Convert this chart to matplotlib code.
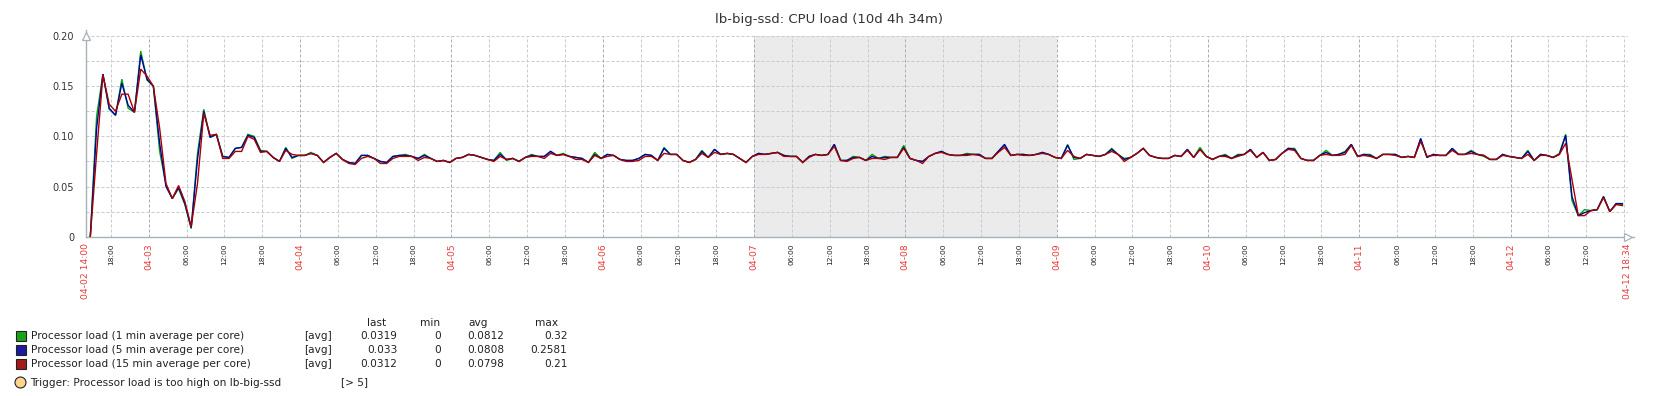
import numpy as np
import matplotlib
matplotlib.use("Agg")
import matplotlib.pyplot as plt
from matplotlib.patches import Rectangle, Ellipse
from datetime import datetime, timedelta

# ---------------- data ----------------
title = "lb-big-ssd: CPU load (10d 4h 34m)"
start_time = datetime(2024, 4, 2, 14, 0)
end_time = datetime(2024, 4, 12, 18, 34)
sample_offset_h = 0.73          # first hourly trend sample after start
weekend_start = datetime(2024, 4, 7, 0, 0)
weekend_end = datetime(2024, 4, 9, 0, 0)

load_1min = [
    0.000, 0.120, 0.162, 0.127, 0.121, 0.157, 0.128, 0.124, 0.185, 0.156,
    0.150, 0.085, 0.052, 0.038, 0.048, 0.032, 0.008, 0.083, 0.127, 0.099,
    0.102, 0.080, 0.079, 0.088, 0.089, 0.102, 0.100, 0.086, 0.085, 0.079,
    0.075, 0.089, 0.078, 0.081, 0.081, 0.084, 0.081, 0.074, 0.079, 0.083,
    0.077, 0.074, 0.073, 0.081, 0.081, 0.078, 0.075, 0.074, 0.080, 0.081,
    0.082, 0.080, 0.078, 0.082, 0.078, 0.075, 0.076, 0.074, 0.078, 0.079,
    0.082, 0.081, 0.079, 0.077, 0.076, 0.084, 0.076, 0.078, 0.075, 0.079,
    0.082, 0.080, 0.080, 0.085, 0.081, 0.083, 0.080, 0.079, 0.078, 0.074,
    0.084, 0.078, 0.082, 0.081, 0.077, 0.076, 0.076, 0.078, 0.082, 0.081,
    0.076, 0.089, 0.082, 0.082, 0.076, 0.074, 0.077, 0.086, 0.079, 0.087,
    0.082, 0.083, 0.082, 0.078, 0.074, 0.080, 0.083, 0.082, 0.083, 0.084,
    0.081, 0.080, 0.080, 0.074, 0.080, 0.082, 0.081, 0.082, 0.092, 0.076,
    0.076, 0.080, 0.079, 0.076, 0.082, 0.078, 0.080, 0.079, 0.079, 0.091,
    0.078, 0.076, 0.075, 0.080, 0.083, 0.085, 0.082, 0.081, 0.081, 0.083,
    0.082, 0.082, 0.078, 0.078, 0.085, 0.091, 0.081, 0.082, 0.082, 0.081,
    0.082, 0.084, 0.082, 0.079, 0.078, 0.092, 0.077, 0.078, 0.082, 0.081,
    0.080, 0.082, 0.088, 0.082, 0.078, 0.079, 0.083, 0.088, 0.081, 0.079,
    0.078, 0.078, 0.081, 0.080, 0.087, 0.079, 0.089, 0.080, 0.077, 0.080,
    0.082, 0.078, 0.082, 0.082, 0.087, 0.079, 0.084, 0.076, 0.077, 0.083,
    0.088, 0.088, 0.078, 0.076, 0.076, 0.081, 0.086, 0.081, 0.082, 0.085,
    0.092, 0.080, 0.082, 0.082, 0.078, 0.082, 0.082, 0.082, 0.079, 0.080,
    0.079, 0.097, 0.079, 0.082, 0.081, 0.081, 0.088, 0.082, 0.082, 0.086,
    0.082, 0.080, 0.077, 0.077, 0.082, 0.080, 0.079, 0.078, 0.086, 0.076,
    0.082, 0.081, 0.079, 0.083, 0.102, 0.036, 0.021, 0.027, 0.026, 0.027,
    0.040, 0.025, 0.033, 0.032,
]
load_5min = [
    0.000, 0.108, 0.162, 0.128, 0.121, 0.153, 0.131, 0.124, 0.181, 0.157,
    0.150, 0.093, 0.050, 0.038, 0.049, 0.033, 0.009, 0.077, 0.125, 0.099,
    0.102, 0.080, 0.079, 0.088, 0.089, 0.101, 0.099, 0.085, 0.085, 0.079,
    0.075, 0.088, 0.079, 0.081, 0.081, 0.083, 0.081, 0.074, 0.079, 0.083,
    0.077, 0.074, 0.073, 0.081, 0.081, 0.078, 0.075, 0.074, 0.080, 0.081,
    0.081, 0.080, 0.078, 0.081, 0.078, 0.075, 0.076, 0.074, 0.078, 0.079,
    0.082, 0.081, 0.079, 0.077, 0.076, 0.082, 0.077, 0.078, 0.075, 0.079,
    0.081, 0.080, 0.080, 0.085, 0.081, 0.082, 0.080, 0.079, 0.078, 0.074,
    0.082, 0.078, 0.082, 0.081, 0.077, 0.076, 0.076, 0.078, 0.082, 0.081,
    0.076, 0.088, 0.082, 0.082, 0.076, 0.074, 0.077, 0.085, 0.079, 0.087,
    0.082, 0.083, 0.082, 0.078, 0.074, 0.080, 0.083, 0.082, 0.083, 0.084,
    0.081, 0.080, 0.080, 0.074, 0.080, 0.082, 0.081, 0.082, 0.092, 0.076,
    0.076, 0.079, 0.079, 0.076, 0.080, 0.078, 0.079, 0.079, 0.079, 0.089,
    0.078, 0.076, 0.075, 0.080, 0.083, 0.085, 0.082, 0.081, 0.081, 0.082,
    0.082, 0.082, 0.078, 0.078, 0.085, 0.092, 0.081, 0.082, 0.082, 0.081,
    0.082, 0.084, 0.082, 0.079, 0.078, 0.091, 0.079, 0.078, 0.082, 0.081,
    0.080, 0.082, 0.087, 0.082, 0.077, 0.079, 0.083, 0.088, 0.081, 0.079,
    0.078, 0.078, 0.081, 0.080, 0.087, 0.079, 0.087, 0.080, 0.077, 0.080,
    0.081, 0.078, 0.081, 0.082, 0.087, 0.079, 0.084, 0.076, 0.077, 0.083,
    0.088, 0.087, 0.078, 0.076, 0.076, 0.081, 0.084, 0.081, 0.082, 0.084,
    0.092, 0.080, 0.082, 0.081, 0.078, 0.082, 0.082, 0.082, 0.079, 0.080,
    0.079, 0.098, 0.079, 0.082, 0.081, 0.081, 0.088, 0.082, 0.082, 0.085,
    0.082, 0.081, 0.077, 0.077, 0.082, 0.080, 0.079, 0.078, 0.085, 0.076,
    0.082, 0.081, 0.079, 0.082, 0.101, 0.040, 0.021, 0.024, 0.026, 0.027,
    0.040, 0.025, 0.033, 0.033,
]
load_15min = [
    0.000, 0.083, 0.161, 0.132, 0.125, 0.142, 0.142, 0.124, 0.167, 0.160,
    0.150, 0.108, 0.053, 0.038, 0.051, 0.035, 0.010, 0.053, 0.123, 0.101,
    0.102, 0.078, 0.078, 0.085, 0.085, 0.100, 0.097, 0.084, 0.085, 0.079,
    0.075, 0.086, 0.082, 0.081, 0.081, 0.083, 0.081, 0.074, 0.079, 0.083,
    0.077, 0.073, 0.072, 0.078, 0.080, 0.078, 0.073, 0.073, 0.078, 0.080,
    0.080, 0.080, 0.076, 0.079, 0.078, 0.075, 0.076, 0.074, 0.078, 0.079,
    0.082, 0.081, 0.079, 0.077, 0.075, 0.080, 0.077, 0.078, 0.075, 0.079,
    0.080, 0.080, 0.078, 0.083, 0.081, 0.082, 0.080, 0.077, 0.077, 0.074,
    0.081, 0.078, 0.080, 0.081, 0.077, 0.075, 0.075, 0.076, 0.080, 0.080,
    0.076, 0.083, 0.082, 0.082, 0.076, 0.074, 0.077, 0.083, 0.079, 0.084,
    0.082, 0.083, 0.082, 0.078, 0.074, 0.080, 0.082, 0.082, 0.083, 0.084,
    0.080, 0.080, 0.080, 0.074, 0.079, 0.082, 0.081, 0.082, 0.090, 0.076,
    0.075, 0.078, 0.079, 0.076, 0.078, 0.078, 0.077, 0.079, 0.079, 0.088,
    0.078, 0.076, 0.073, 0.080, 0.083, 0.084, 0.082, 0.081, 0.081, 0.081,
    0.082, 0.081, 0.078, 0.078, 0.084, 0.089, 0.081, 0.082, 0.081, 0.081,
    0.082, 0.083, 0.082, 0.079, 0.078, 0.086, 0.080, 0.078, 0.082, 0.081,
    0.080, 0.082, 0.085, 0.082, 0.075, 0.079, 0.083, 0.088, 0.081, 0.079,
    0.078, 0.078, 0.081, 0.080, 0.086, 0.079, 0.087, 0.080, 0.077, 0.080,
    0.080, 0.078, 0.080, 0.082, 0.086, 0.079, 0.084, 0.076, 0.077, 0.083,
    0.087, 0.086, 0.078, 0.076, 0.076, 0.081, 0.082, 0.081, 0.081, 0.082,
    0.091, 0.080, 0.081, 0.080, 0.078, 0.082, 0.082, 0.081, 0.079, 0.080,
    0.079, 0.095, 0.080, 0.081, 0.081, 0.081, 0.086, 0.082, 0.082, 0.083,
    0.082, 0.081, 0.077, 0.077, 0.081, 0.080, 0.079, 0.078, 0.082, 0.076,
    0.081, 0.081, 0.079, 0.082, 0.093, 0.057, 0.021, 0.021, 0.026, 0.027,
    0.039, 0.025, 0.032, 0.031,
]

series_names = [
    "Processor load (1 min average per core)",
    "Processor load (5 min average per core)",
    "Processor load (15 min average per core)",
]
series_values = [load_1min, load_5min, load_15min]
line_colors = ["#00A800", "#0000A8", "#A80000"]
legend_fill = ["#1AA31A", "#1A1AA3", "#A31A1A"]
stat_last = ["0.0319", "0.033", "0.0312"]
stat_min = ["0", "0", "0"]
stat_avg = ["0.0812", "0.0808", "0.0798"]
stat_max = ["0.32", "0.2581", "0.21"]
trigger_text = "Trigger: Processor load is too high on lb-big-ssd"
trigger_cond = "[> 5]"
y_ticks = [0, 0.05, 0.10, 0.15, 0.20]
y_ticklabels = ["0", "0.05", "0.10", "0.15", "0.20"]

# ---------------- figure ----------------
W, H = 1658, 396
fig = plt.figure(figsize=(W / 100, H / 100), dpi=100)
fig.patch.set_facecolor("white")

def fx(px):
    return px / W

def fy(py):
    return 1 - py / H

left, right, top, bottom = 85.7, 1627.7, 36.0, 236.7
ax = fig.add_axes([fx(left), fy(bottom), fx(right) - fx(left), (bottom - top) / H])

total_h = (end_time - start_time).total_seconds() / 3600.0
hours = sample_offset_h + np.arange(len(load_1min))

ax.set_xlim(0, total_h)
ax.set_ylim(0, 0.2)

# weekend shading
ws = (weekend_start - start_time).total_seconds() / 3600.0
we = (weekend_end - start_time).total_seconds() / 3600.0
ax.axvspan(ws, we, color="#EBEBEB", zorder=0, lw=0)

# grid
for yv in np.arange(0.025, 0.2001, 0.025):
    ax.axhline(yv, color="#C5CBD1", lw=0.72, ls=(0, (3, 2)), zorder=1)

tick_pos = [0.0]
tick_lab = ["04-02 14:00"]
tick_is_date = [True]
t = start_time.replace(hour=18)
while t < end_time:
    hpos = (t - start_time).total_seconds() / 3600.0
    is_day = t.hour == 0
    ax.axvline(hpos, color="#A6ADB4" if is_day else "#C5CBD1", lw=0.72,
               ls=(0, (3, 2)), zorder=1)
    if total_h - hpos > 4:
        tick_pos.append(hpos)
        tick_lab.append(t.strftime("%m-%d") if is_day else t.strftime("%H:%M"))
        tick_is_date.append(is_day)
    t += timedelta(hours=6)
tick_pos.append(total_h)
tick_lab.append(end_time.strftime("%m-%d %H:%M"))
tick_is_date.append(True)
ax.axvline(total_h, color="#C5CBD1", lw=0.72, ls=(0, (3, 2)), zorder=1)

# series
for vals, c in zip(series_values, line_colors):
    ax.plot(hours, vals, color=c, lw=1.0, zorder=3, solid_joinstyle="miter")

# axes styling
for s in ["top", "right"]:
    ax.spines[s].set_visible(False)
for s in ["left", "bottom"]:
    ax.spines[s].set_color("#A9B1B8")
    ax.spines[s].set_linewidth(1.0)
ax.set_facecolor("none")

ax.set_yticks(y_ticks)
ax.set_yticklabels(y_ticklabels)
ax.tick_params(axis="y", length=0, pad=8.3, labelsize=7, labelcolor="#333333")

ax.set_xticks(tick_pos)
ax.set_xticklabels(tick_lab, rotation=90)
ax.tick_params(axis="x", length=0, pad=4.6)
for lab, is_date in zip(ax.get_xticklabels(), tick_is_date):
    if is_date:
        lab.set_color("#E83A3A")
        lab.set_fontsize(6.6)
    else:
        lab.set_color("#222222")
        lab.set_fontsize(5.4)

# axis arrows
ax.plot([0], [1.0], transform=ax.transAxes, marker="^", ms=6, mfc="white",
        mec="#A9B1B8", mew=0.9, clip_on=False, zorder=5)
ax.plot([1.0], [0], transform=ax.transAxes, marker=">", ms=6, mfc="white",
        mec="#A9B1B8", mew=0.9, clip_on=False, zorder=5)
ax.plot([0, 0], [1.0, 1.03], transform=ax.transAxes, color="#A9B1B8",
        lw=1.0, clip_on=False)
ax.plot([1.0, 1.004], [0, 0], transform=ax.transAxes, color="#A9B1B8",
        lw=1.0, clip_on=False)

# title
fig.text(0.5, fy(19), title, ha="center", va="center", fontsize=9.5,
         color="#333333")

# legend table
lfs = 7.6
tc = "#222222"
fig.text(fx(377), fy(322.5), "last", ha="center", va="center", fontsize=lfs, color=tc)
fig.text(fx(430), fy(322.5), "min", ha="center", va="center", fontsize=lfs, color=tc)
fig.text(fx(478), fy(322.5), "avg", ha="center", va="center", fontsize=lfs, color=tc)
fig.text(fx(546.5), fy(322.5), "max", ha="center", va="center", fontsize=lfs, color=tc)
row_y = [336, 350, 364]
for i in range(3):
    yy = row_y[i]
    fig.patches.append(Rectangle((fx(15.5), fy(yy + 5)), fx(10), 10 / H,
                                 transform=fig.transFigure, facecolor=legend_fill[i],
                                 edgecolor="#222222", lw=0.8))
    fig.text(fx(31), fy(yy), series_names[i], ha="left", va="center",
             fontsize=lfs, color=tc)
    fig.text(fx(304), fy(yy), "[avg]", ha="left", va="center", fontsize=lfs, color=tc)
    fig.text(fx(397.5), fy(yy), stat_last[i], ha="right", va="center", fontsize=lfs, color=tc)
    fig.text(fx(441), fy(yy), stat_min[i], ha="right", va="center", fontsize=lfs, color=tc)
    fig.text(fx(504.5), fy(yy), stat_avg[i], ha="right", va="center", fontsize=lfs, color=tc)
    fig.text(fx(567.5), fy(yy), stat_max[i], ha="right", va="center", fontsize=lfs, color=tc)

# trigger row
fig.patches.append(Ellipse((fx(20.5), fy(382.5)), fx(11), 11 / H,
                           transform=fig.transFigure, facecolor="#FFD58E",
                           edgecolor="#222222", lw=0.8))
fig.text(fx(30), fy(382.5), trigger_text, ha="left", va="center", fontsize=lfs, color=tc)
fig.text(fx(341.5), fy(382.5), trigger_cond, ha="left", va="center", fontsize=lfs, color=tc)

fig.savefig("out.png", dpi=100, facecolor="white")
